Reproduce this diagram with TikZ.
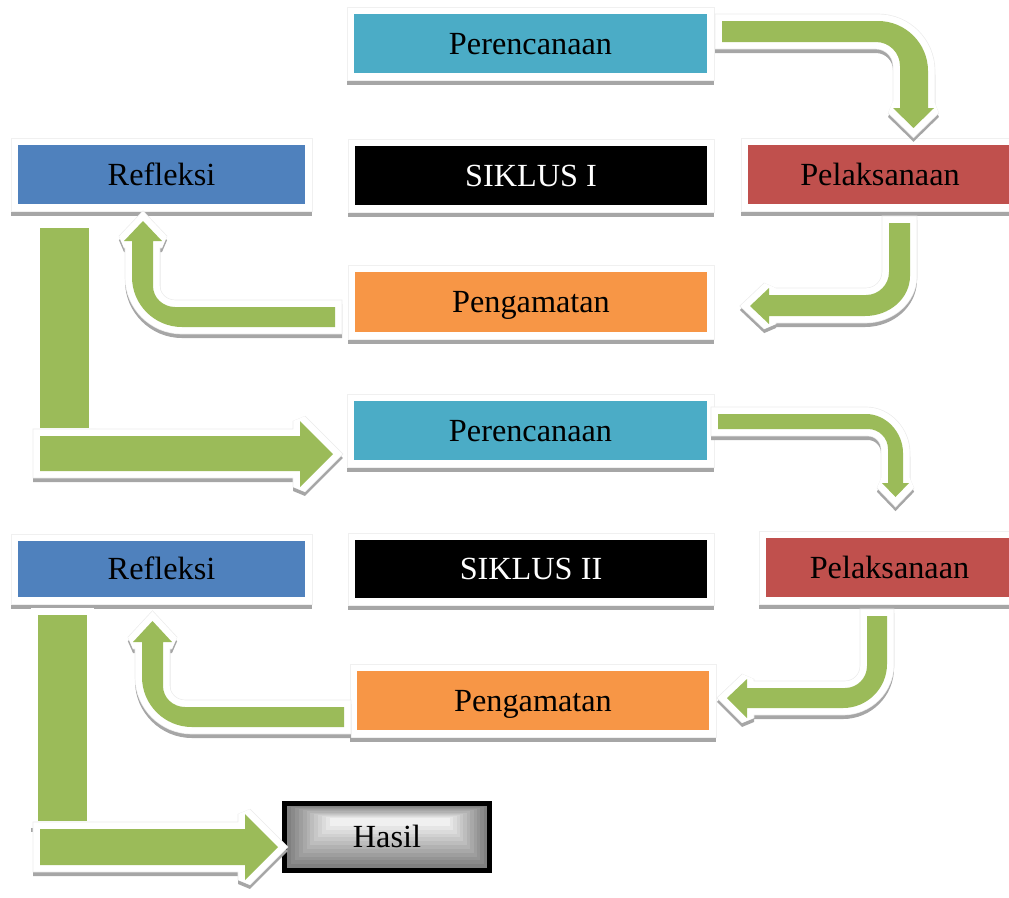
\documentclass[tikz,border=0pt]{standalone}
\usepackage{fontspec}
\setmainfont{Liberation Serif}
\definecolor{perc}{HTML}{4BACC6}
\definecolor{refl}{HTML}{4F81BD}
\definecolor{pel}{HTML}{C0504D}
\definecolor{peng}{HTML}{F79646}
\definecolor{arrg}{HTML}{9BBB59}
\definecolor{shadowc}{RGB}{166,166,166}
\tikzset{
 boxst/.style={inner sep=0pt, text height=16pt, text depth=0pt, font=\fontsize{24.2}{29}\selectfont},
 frameshadow/.style={fill=shadowc},
 framerim/.style={fill=white, draw=black!6, line width=0.5pt},
 arrshadow/.style={fill=shadowc, draw=shadowc, line width=10.5pt, line join=miter, miter limit=2, yshift=-3pt},
 arrrim/.style={fill=white, draw=black!8, line width=11pt, line join=miter, miter limit=2},
 arrwhite/.style={fill=white, draw=white, line width=10pt, line join=miter, miter limit=2},
 arrbody/.style={fill=arrg},
}
% name, x1, y1, x2, y2, fill, text colour, text
\newcommand\myframedbox[8]{%
 \fill[frameshadow] (#2-7,#3-2.5) rectangle (#4+7,#5+11.5);
 \filldraw[framerim] (#2-7,#3-7) rectangle (#4+7,#5+7);
 \node[boxst, fill=#6, text=#7, minimum width={(#4-#2)*0.75pt}, minimum height={(#5-#3)*0.75pt}]
   (#1) at ({(#2+#4)/2},{(#3+#5)/2}) {#8};
}
\newcommand\myblockarrow[1]{%
 \path[arrshadow] #1;
 \path[arrrim] #1;
 \path[arrwhite] #1;
 \path[arrbody] #1;
}
\begin{document}
\begin{tikzpicture}[x=0.75pt,y=-0.75pt]
\useasboundingbox (0,0) rectangle (1009,897);
\clip (0,0) rectangle (1009,897);

% boxes
\myframedbox{per1}{354}{14}{707}{73}{perc}{black}{Perencanaan}
\myframedbox{ref1}{18}{145}{305}{204}{refl}{black}{Refleksi}
\myframedbox{sik1}{355}{146}{707}{205}{black}{white}{SIKLUS I}
\myframedbox{pel1}{748}{145}{1012}{204}{pel}{black}{Pelaksanaan}
\myframedbox{pen1}{355}{272}{707}{332}{peng}{black}{Pengamatan}
\myframedbox{per2}{354}{401}{707}{460}{perc}{black}{Perencanaan}
\myframedbox{ref2}{18}{541}{305}{597}{refl}{black}{Refleksi}
\myframedbox{sik2}{355}{540}{707}{598}{black}{white}{SIKLUS II}
\myframedbox{pel2}{766}{538}{1013}{597}{pel}{black}{Pelaksanaan}
\myframedbox{pen2}{357}{671}{709}{730}{peng}{black}{Pengamatan}

% Hasil box with gradient
\foreach \i in {0,...,11}{
 \pgfmathsetmacro\xa{287+\i*(330-287)/11}
 \pgfmathsetmacro\ya{806+\i*(818-806)/11}
 \pgfmathsetmacro\xb{487-\i*(487-450)/11}
 \pgfmathsetmacro\yb{868-\i*(868-826)/11}
 \pgfmathsetmacro\gl{50-\i*44/11}
 \fill[black!\gl] (\xa,\ya) rectangle (\xb,\yb);
}
\node[boxst, draw=black, line width=3.75pt, minimum width=153.75pt, minimum height=50.25pt] (hasil) at (387,837) {Hasil};

% arrows
% Perencanaan 1 -> Pelaksanaan 1
\myblockarrow{(722,21) -- (878,21) .. controls (905.6,21) and (928,43.4) .. (928,71) -- (928,108) -- (934,108) -- (913.5,128) -- (893,108) -- (900,108) -- (900,66) .. controls (900,52.75) and (889.25,42) .. (876,42) -- (722,42) -- cycle}
% Pelaksanaan 1 -> Pengamatan 1
\myblockarrow{(889,223) -- (910,223) -- (910,276) .. controls (910,298.1) and (889.8,316) .. (865,316) -- (769,316) -- (769,324) -- (750,306) -- (769,288) -- (769,295) -- (866,295) .. controls (878.7,295) and (889,284.7) .. (889,272) -- cycle}
% Pengamatan 1 -> Refleksi 1
\myblockarrow{(335,307) -- (175,307) .. controls (162.9,307) and (153,297.6) .. (153,286) -- (153,241) -- (162,241) -- (143,221) -- (124,241) -- (132,241) -- (132,277) .. controls (132,304.6) and (154.4,327) .. (182,327) -- (335,327) -- cycle}
% Refleksi 1 -> Perencanaan 2
\myblockarrow{(40,228) rectangle (89,428)}
\myblockarrow{(40,436) -- (300,436) -- (300,421) -- (333,454) -- (300,487) -- (300,471) -- (40,471) -- cycle}
% Perencanaan 2 -> Pelaksanaan 2
\myblockarrow{(718,414) -- (866,414) .. controls (886.4,414) and (903,432.6) .. (903,453) -- (903,483) -- (909,483) -- (895.5,497) -- (882,483) -- (888,483) -- (888,449) .. controls (888,438) and (879,429) .. (868,429) -- (718,429) -- cycle}
% Pelaksanaan 2 -> Pengamatan 2
\myblockarrow{(867,616) -- (887,616) -- (887,664) .. controls (887,688.3) and (867.3,708) .. (843,708) -- (747,708) -- (747,718) -- (727,698) -- (747,679) -- (747,688) -- (845,688) .. controls (857.2,688) and (867,678.2) .. (867,666) -- cycle}
% Pengamatan 2 -> Refleksi 2
\myblockarrow{(344,707) -- (185,707) .. controls (172.9,707) and (163,697.6) .. (163,686) -- (163,642) -- (172,642) -- (152.5,621) -- (133,642) -- (142,642) -- (142,677) .. controls (142,704.6) and (164.4,727) .. (192,727) -- (344,727) -- cycle}
% Refleksi 2 -> Hasil
\myblockarrow{(38,615) rectangle (87,821)}
\myblockarrow{(40,829) -- (245,829) -- (245,814) -- (278,847) -- (245,880) -- (245,865) -- (40,865) -- cycle}
\end{tikzpicture}
\end{document}
